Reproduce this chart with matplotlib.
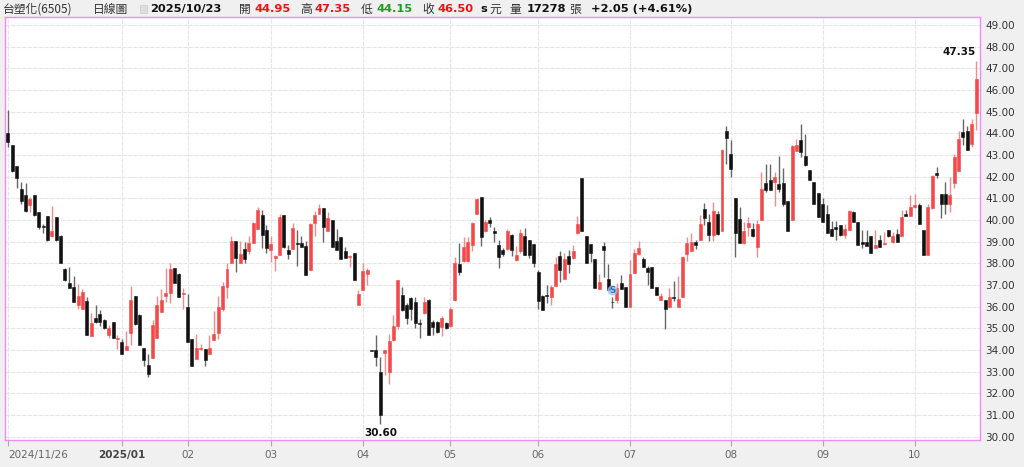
import matplotlib.pyplot as plt
import numpy as np

# Daily OHLC, 2024/11/26 - 2025/10/23, grouped by month
opens = [
    # 2024/11-12
    44.00, 43.45, 42.50, 41.45, 41.15, 40.70, 41.15, 40.35, 39.70, 40.20, 39.25, 40.15, 39.25,
    37.75, 37.10, 36.90, 36.10, 35.90, 36.25, 34.65, 35.50, 35.65, 35.40, 34.70, 35.30, 34.50,
    # 2025/01
    34.35, 34.00, 34.80, 36.50, 35.60, 34.10, 33.30, 33.65, 34.55, 35.75, 36.50, 36.65, 37.80, 37.50, 36.60,
    # 02
    36.00, 34.50, 33.60, 34.05, 34.05, 33.80, 34.45, 34.80, 35.90, 36.90, 38.00, 39.05, 38.00, 38.65,
    38.55, 38.95, 39.60, 40.25, 39.55,
    # 03
    38.60, 38.25, 38.40, 40.25, 38.60, 38.65, 38.95, 38.95, 38.80, 37.70, 39.85, 40.30, 40.55, 39.50,
    40.00, 39.05, 39.20, 38.55, 38.30, 38.50, 36.10,
    # 04
    36.75, 37.50, 33.95, 34.00, 33.00, 33.85, 33.00, 34.45, 35.10, 36.55, 36.10, 36.40, 36.20, 35.25,
    35.70, 36.30, 35.30, 35.30, 35.05, 35.25,
    # 05
    35.10, 36.30, 37.95, 38.10, 38.10, 38.85, 40.30, 41.05, 39.50, 40.00, 39.50, 38.85, 38.60, 38.65,
    39.30, 38.15, 38.55, 39.25, 39.10, 38.90,
    # 06
    37.60, 36.50, 36.50, 36.45, 36.95, 38.35, 37.30, 38.35, 38.25, 39.40, 41.95, 39.25, 38.90, 38.20,
    36.80, 38.80, 37.30, 36.20, 36.30, 37.10, 36.90,
    # 07
    36.00, 37.55, 38.45, 38.20, 37.80, 37.85, 36.90, 36.30, 36.30, 36.00, 36.40, 36.00, 36.45, 38.45,
    38.55, 39.00, 39.10, 40.50, 39.90, 39.30, 40.30, 39.50, 44.10,
    # 08
    43.05, 41.00, 40.05, 38.95, 39.70, 39.60, 38.75, 40.00, 41.70, 41.85, 41.75, 41.65, 41.70, 40.90,
    40.00, 43.20, 43.70, 42.95, 42.30, 41.75, 41.25,
    # 09
    40.75, 40.30, 39.60, 39.70, 39.75, 39.30, 39.55, 40.35, 39.90, 39.00, 39.00, 39.25, 38.70, 39.10,
    38.90, 39.55, 39.00, 39.35, 39.25, 40.30, 40.20,
    # 10
    40.60, 40.70, 39.55, 38.40, 40.55, 42.15, 41.20, 41.20, 40.75, 41.70, 42.25, 44.05, 44.10, 43.50, 44.95,
]
highs = [
    45.10, 43.45, 42.50, 41.75, 41.70, 41.05, 41.15, 40.35, 39.80, 40.20, 40.65, 40.15, 39.30,
    37.80, 37.85, 37.40, 37.05, 36.80, 36.45, 35.70, 36.10, 35.85, 35.45, 35.15, 35.30, 34.70,
    34.50, 34.90, 36.95, 36.50, 35.65, 34.10, 33.80, 35.40, 36.50, 36.80, 37.80, 38.00, 37.80, 37.55, 36.85,
    36.60, 34.50, 34.75, 34.30, 34.05, 34.70, 35.80, 36.50, 37.15, 38.00, 39.25, 39.05, 39.05, 39.00,
    39.25, 39.90, 40.60, 40.45, 39.75,
    39.25, 38.40, 40.30, 40.25, 38.85, 39.85, 39.55, 39.25, 39.05, 39.85, 40.40, 40.75, 40.55, 40.35,
    40.00, 39.60, 39.20, 38.75, 38.40, 38.50, 36.75,
    38.00, 37.80, 33.95, 34.70, 33.70, 34.00, 34.75, 35.60, 37.25, 36.90, 36.15, 36.45, 36.45, 35.45,
    36.45, 36.35, 35.40, 35.35, 35.55, 35.30,
    36.00, 38.30, 38.95, 39.20, 39.20, 39.90, 41.00, 41.05, 40.00, 40.15, 39.70, 39.10, 38.70, 39.60,
    39.35, 38.80, 39.60, 39.65, 39.10, 38.90,
    37.70, 36.55, 37.00, 37.00, 38.30, 38.55, 38.50, 38.60, 38.85, 40.20, 41.95, 39.25, 38.90, 38.20,
    37.50, 39.00, 37.95, 36.45, 37.10, 37.45, 36.90,
    38.15, 38.65, 39.05, 38.30, 37.90, 37.85, 36.90, 36.65, 36.30, 36.85, 37.20, 37.40, 38.35, 39.20,
    39.40, 39.10, 40.25, 40.80, 40.30, 40.85, 40.40, 43.30, 44.35,
    43.70, 41.00, 40.60, 39.90, 40.15, 39.85, 40.00, 42.20, 42.60, 42.60, 42.20, 42.95, 42.40, 40.90,
    43.45, 43.75, 44.45, 43.95, 42.30, 41.75, 41.25,
    41.00, 40.70, 39.95, 39.95, 39.75, 39.80, 40.45, 40.40, 39.90, 39.55, 39.55, 39.25, 39.55, 39.30,
    39.45, 39.55, 39.45, 39.60, 40.45, 40.45, 41.15,
    41.20, 40.80, 39.55, 40.75, 42.10, 42.45, 41.20, 41.75, 42.00, 43.05, 44.10, 44.65, 44.35, 44.65, 47.35,
]
lows = [
    43.35, 42.20, 41.50, 40.75, 40.35, 40.35, 40.20, 39.60, 39.40, 39.05, 39.20, 39.05, 38.00,
    37.20, 36.85, 36.20, 35.90, 35.90, 34.70, 34.65, 35.25, 35.10, 34.95, 34.55, 34.55, 34.05,
    33.80, 34.00, 34.25, 35.15, 34.25, 33.25, 32.75, 33.65, 34.55, 35.75, 36.20, 36.15, 37.10, 36.45, 35.90,
    34.35, 33.25, 33.60, 34.00, 33.25, 33.80, 34.45, 34.50, 35.80, 36.40, 38.00, 37.60, 38.00, 38.00,
    38.45, 38.95, 39.60, 38.70, 38.50,
    38.05, 37.65, 38.40, 38.70, 38.20, 38.65, 37.90, 38.75, 37.45, 37.70, 39.25, 40.30, 39.00, 39.50,
    38.75, 38.60, 38.20, 38.25, 37.85, 37.25, 36.10,
    36.75, 37.00, 33.95, 33.25, 30.60, 32.85, 32.45, 34.40, 34.95, 35.80, 35.20, 35.40, 35.00, 34.55,
    35.65, 34.70, 34.70, 34.80, 34.65, 34.95,
    35.05, 36.25, 37.45, 38.05, 38.05, 38.55, 40.30, 38.80, 39.45, 39.70, 39.00, 37.80, 38.35, 38.60,
    38.35, 38.10, 38.50, 38.40, 38.25, 37.85,
    35.90, 35.85, 36.15, 36.10, 36.95, 37.15, 37.30, 37.55, 38.20, 39.35, 39.50, 38.00, 38.05, 36.85,
    36.80, 37.35, 36.75, 35.95, 36.15, 36.80, 36.00,
    36.00, 37.55, 38.40, 37.85, 37.00, 36.85, 36.55, 36.30, 34.95, 36.00, 36.25, 36.00, 36.45, 38.10,
    38.55, 38.65, 39.10, 39.75, 39.05, 39.05, 39.30, 39.50, 42.60,
    42.00, 38.30, 38.95, 38.90, 39.25, 39.20, 38.30, 40.00, 41.30, 41.40, 40.65, 41.30, 40.65, 39.50,
    40.00, 43.20, 42.90, 42.50, 41.85, 40.75, 40.15,
    39.90, 39.40, 39.25, 39.10, 39.25, 39.15, 39.55, 39.90, 38.85, 38.70, 38.80, 38.50, 38.70, 38.75,
    38.85, 39.20, 38.95, 39.00, 39.25, 40.20, 40.20,
    40.55, 39.80, 38.40, 38.40, 40.50, 41.95, 40.10, 40.30, 40.35, 41.50, 42.25, 43.45, 43.25, 43.35, 44.15,
]
closes = [
    43.60, 42.25, 41.95, 40.90, 40.40, 40.95, 40.25, 39.70, 39.70, 39.10, 39.50, 39.10, 38.00,
    37.25, 36.85, 36.20, 36.50, 36.70, 34.70, 35.25, 35.30, 35.30, 35.00, 35.00, 34.55, 34.55,
    33.80, 34.20, 36.30, 35.20, 34.25, 33.55, 32.90, 35.15, 36.10, 36.30, 36.65, 37.75, 37.10, 36.45, 36.65,
    34.35, 33.25, 34.10, 34.10, 33.55, 34.10, 34.75, 36.00, 36.95, 37.75, 39.05, 38.25, 38.45, 38.20,
    38.95, 39.85, 40.45, 39.30, 38.70,
    38.90, 38.35, 40.15, 38.75, 38.45, 39.65, 38.90, 38.75, 37.45, 39.80, 40.25, 40.55, 39.70, 40.10,
    38.75, 38.60, 38.20, 38.25, 38.35, 37.25, 36.60,
    37.65, 37.70, 33.95, 33.70, 31.00, 34.00, 34.40, 35.10, 37.25, 35.85, 35.50, 35.90, 35.25, 35.20,
    36.20, 34.70, 35.05, 34.85, 35.50, 35.00,
    35.90, 38.00, 37.60, 38.75, 39.00, 39.85, 40.95, 39.20, 39.90, 39.85, 39.40, 38.30, 38.45, 39.50,
    38.60, 38.40, 39.40, 38.40, 38.40, 38.00,
    36.25, 35.85, 36.50, 36.90, 37.95, 37.70, 38.20, 37.95, 38.55, 39.80, 39.50, 38.00, 38.50, 36.85,
    37.15, 38.60, 36.75, 36.20, 36.85, 36.80, 36.00,
    37.50, 38.50, 38.70, 37.85, 37.60, 36.85, 36.55, 36.50, 35.90, 36.45, 36.40, 36.35, 38.30, 38.95,
    39.00, 38.85, 39.80, 40.10, 39.30, 40.40, 39.35, 43.25, 43.80,
    42.35, 39.40, 38.95, 39.50, 39.85, 39.25, 39.80, 41.45, 41.40, 41.40, 42.00, 41.45, 40.75, 39.50,
    43.40, 43.45, 43.15, 42.55, 41.85, 40.75, 40.15,
    39.90, 39.40, 39.25, 39.60, 39.30, 39.60, 40.40, 39.90, 38.85, 38.90, 38.80, 38.50, 38.85, 38.75,
    38.95, 39.25, 39.25, 39.00, 40.15, 40.20, 40.60,
    40.70, 39.80, 38.40, 40.60, 42.05, 42.10, 40.75, 40.75, 41.15, 42.90, 43.75, 43.85, 43.25, 44.45, 46.50,
]

month_labels = ["2024/11/26", "2025/01", "02", "03", "04", "05", "06", "07", "08", "09", "10"]
month_days = [26, 15, 19, 21, 20, 20, 21, 23, 21, 21, 15]

o = np.array(opens)
h = np.array(highs)
l = np.array(lows)
c = np.array(closes)
x = np.arange(len(c))

W, H = 1024, 467
fig = plt.figure(figsize=(W / 100, H / 100), dpi=100, facecolor="#f0f0f0")
ax = fig.add_axes([5 / W, 27 / H, 975 / W, 423 / H])
ax.set_facecolor("white")

up = c > o
red, red_wick = "#f24a4a", "#f58a8a"
black, black_wick = "#111111", "#666666"
body_col = np.where(up, red, black)
wick_col = np.where(up, red_wick, black_wick)

ax.vlines(x, l, h, colors=wick_col, lw=1.0, zorder=2)
body_h = np.maximum(np.abs(c - o), 0.04)
ax.bar(x, body_h, bottom=np.minimum(o, c), width=0.68, color=body_col,
       edgecolor=body_col, lw=0.4, zorder=3)

# axes
ax.set_xlim(-0.68, 221.9)
ax.set_ylim(29.85, 49.37)
ax.set_yticks(np.arange(30, 50, 1))
ax.yaxis.tick_right()
ax.set_yticklabels([f"{v:.2f}" for v in np.arange(30, 50, 1)], fontsize=7.5, color="#333333")
ax.tick_params(axis="y", length=0, pad=4)

starts = np.concatenate([[0], np.cumsum(month_days)[:-1]])
ax.set_xticks(starts)
ax.set_xticklabels(month_labels, fontsize=7.5, color="#666666")
ax.tick_params(axis="x", length=4, color="#aaaaaa", pad=3)
for i, t in enumerate(ax.get_xticklabels()):
    if i == 0:
        t.set_ha("left")
    if month_labels[i] == "2025/01":
        t.set_fontweight("bold")
        t.set_color("#444444")

ax.grid(True, color="#e6e6e6", lw=0.8, ls=(0, (4, 1)), zorder=0)
for s in ax.spines.values():
    s.set_color("#f08cf0")
    s.set_linewidth(1.0)

# high / low labels
hi = int(np.argmax(h))
lo = int(np.argmin(l))
ax.annotate(f"{h[hi]:.2f}", (hi, h[hi]), xytext=(0, 3), textcoords="offset points",
            ha="right", va="bottom", fontsize=7.5, fontweight="bold", color="#111111")
ax.annotate(f"{l[lo]:.2f}", (lo, l[lo]), xytext=(0, -3), textcoords="offset points",
            ha="center", va="top", fontsize=7.5, fontweight="bold", color="#111111")

# small blue "S" marker
ax.scatter([138], [36.75], s=40, color="#9cc8f0", alpha=0.7, zorder=4)
ax.text(138, 36.75, "S", fontsize=6, color="#2a6fc0", ha="center", va="center",
        fontweight="bold", zorder=5)

# header line
cjk = ["Noto Sans CJK TC", "DejaVu Sans"]
num = ["DejaVu Sans"]
y0 = 1 - 9 / H
def head(px, s, color="#333333", bold=False, size=8.2, fam=None):
    fig.text(px / W, y0, s, color=color, fontsize=size, va="center", ha="left",
             fontweight="bold" if bold else "normal", family=fam or cjk)

head(3, "台塑化(6505)", size=8.5)
head(93, "日線圖", size=8.5)
fig.patches.append(plt.Rectangle((140 / W, 1 - 13 / H), 7 / W, 8 / H, transform=fig.transFigure,
                                 facecolor="#dddddd", edgecolor="#cccccc", lw=0.5))
head(150, "2025/10/23", "#111111", True, fam=num)
head(239, "開", size=8.5)
head(254, "44.95", "#ee1111", True, fam=num)
head(300, "高", size=8.5)
head(314, "47.35", "#ee1111", True, fam=num)
head(361, "低", size=8.5)
head(376, "44.15", "#229922", True, fam=num)
head(422, "收", size=8.5)
head(437, "46.50", "#ee1111", True, fam=num)
head(480, "s", "#111111", True, fam=num)
head(489, "元", size=8.5)
head(509, "量", size=8.5)
head(527, "17278", "#111111", True, fam=num)
head(569, "張", size=8.5)
head(591, "+2.05 (+4.61%)", "#111111", True, fam=num)

fig.savefig("out.png", dpi=100, facecolor=fig.get_facecolor())
